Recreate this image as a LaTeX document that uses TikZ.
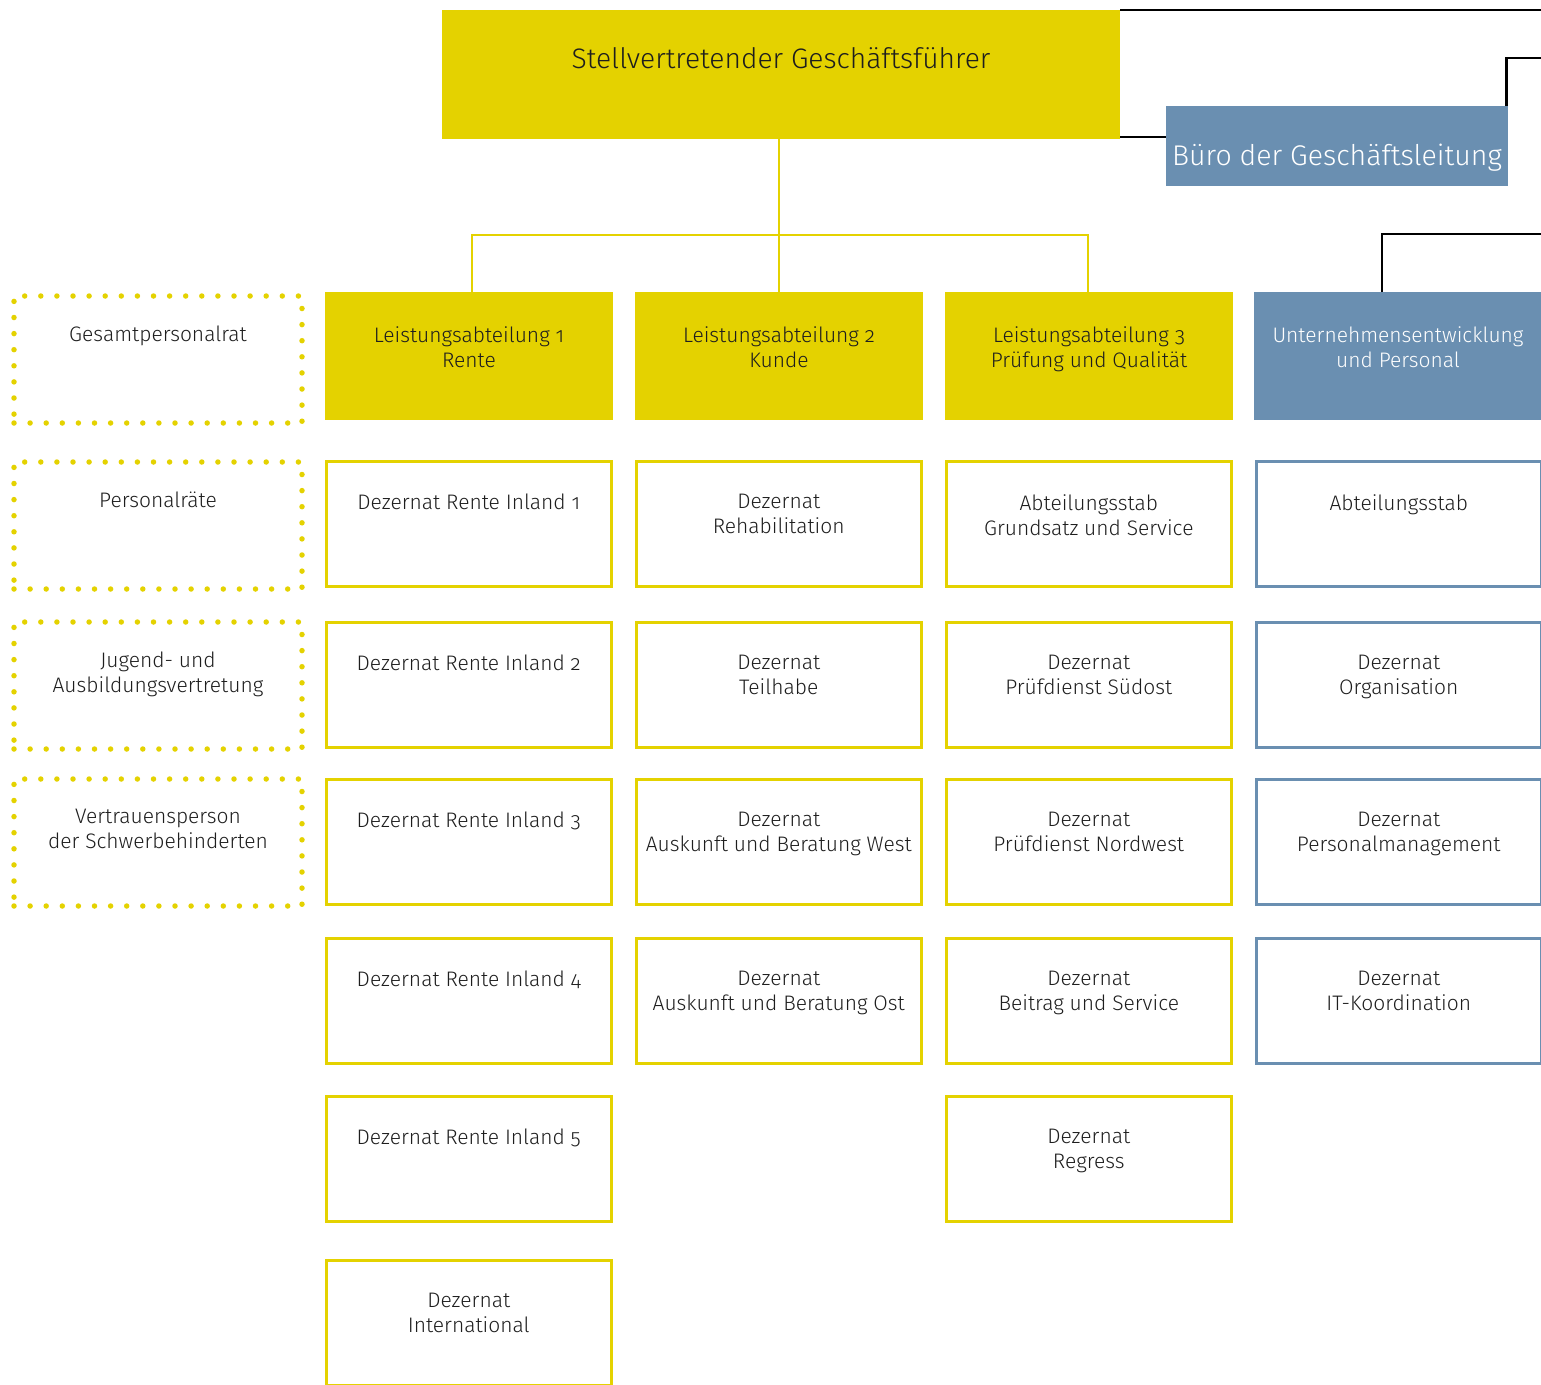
\documentclass[tikz,border=0pt]{standalone}
\usepackage{fontspec}
\setmainfont{Fira Sans Light}[Numbers=OldStyle]
\definecolor{gelb}{RGB}{228,210,0}
\definecolor{blau}{RGB}{106,143,177}
\definecolor{schrift}{RGB}{30,30,30}

\begin{document}
\begin{tikzpicture}[x=1pt, y=-1pt,
  box/.style = {draw=gelb, line width=2.5pt, anchor=north west, inner sep=0,
    minimum width=285, minimum height=125},
  blaubox/.style = {box, draw=blau},
  kopf/.style = {box, draw=none, outer sep=0, fill=gelb,
    minimum width=288, minimum height=128},
  blaukopf/.style = {kopf, fill=blau},
  punkte/.style = {box, line width=5.5pt, outer sep=0, dash pattern=on 0pt off 16.1pt,
    line cap=round, minimum width=288, minimum height=127},
  lab/.style = {anchor=north, yshift=-34pt, align=center, inner sep=0,
    text=schrift, font=\fontsize{21}{25}\selectfont},
  punktlab/.style = {lab, yshift=4.5pt},
  weisslab/.style = {lab, text=white},
  gelblinie/.style = {draw=gelb, line width=2.5pt},
  linie/.style = {draw=black, line width=2.8pt}]

  \clip (0,0) rectangle (1541,1384);

  \node[kopf, minimum width=678, minimum height=129, text=schrift,
    font=\fontsize{28.2}{34}\selectfont, text depth=32pt] (chef) at (442,10)
    {Stellvertretender Geschäftsführer};
  \node[blaukopf, minimum width=342, minimum height=80, text=white,
    font=\fontsize{28.5}{34}\selectfont, text height=45pt] (buero) at (1166,106)
    {Büro der Geschäftsleitung};

  \coordinate (rand1) at (1560,11);
  \coordinate (rand2) at (1560,58);
  \coordinate (rand3) at (1560,234);

  % Kopfzeile
  \node[punkte, label={[punktlab]north:Gesamtpersonalrat}] (gpr) at (14,296) {};
  \node[kopf, label={[lab]north:{Leistungsabteilung 1\\Rente}}] (la1) at (325,292) {};
  \node[kopf, label={[lab]north:{Leistungsabteilung 2\\Kunde}}] (la2) at (635,292) {};
  \node[kopf, label={[lab]north:{Leistungsabteilung 3\\Prüfung und Qualität}}] (la3) at (945,292) {};
  \node[blaukopf, label={[weisslab]north:{Unternehmensentwicklung\\und Personal}}] (up) at (1254,292) {};

  % Personalvertretungen
  \node[punkte, label={[punktlab]north:Personalräte}] (pr) at (14,462) {};
  \node[punkte, label={[punktlab]north:{Jugend- und\\Ausbildungsvertretung}}] (jav) at (14,622) {};
  \node[punkte, label={[punktlab]north:{Vertrauensperson\\der Schwerbehinderten}}] (vp) at (14,779) {};

  % Leistungsabteilung 1
  \node[box, label={[lab]north:Dezernat Rente Inland 1}] (ri1) at (325,460) {};
  \node[box, label={[lab]north:Dezernat Rente Inland 2}] (ri2) at (325,621) {};
  \node[box, label={[lab]north:Dezernat Rente Inland 3}] (ri3) at (325,778) {};
  \node[box, label={[lab]north:Dezernat Rente Inland 4}] (ri4) at (325,937) {};
  \node[box, label={[lab]north:Dezernat Rente Inland 5}] (ri5) at (325,1095) {};
  \node[box, label={[lab]north:{Dezernat\\International}}] (int) at (325,1259) {};

  % Leistungsabteilung 2
  \node[box, label={[lab]north:{Dezernat\\Rehabilitation}}] (reha) at (635,460) {};
  \node[box, label={[lab]north:{Dezernat\\Teilhabe}}] (teil) at (635,621) {};
  \node[box, label={[lab]north:{Dezernat\\Auskunft und Beratung West}}] (abw) at (635,778) {};
  \node[box, label={[lab]north:{Dezernat\\Auskunft und Beratung Ost}}] (abo) at (635,937) {};

  % Leistungsabteilung 3
  \node[box, label={[lab]north:{Abteilungsstab\\Grundsatz und Service}}] (stab3) at (945,460) {};
  \node[box, label={[lab]north:{Dezernat\\Prüfdienst Südost}}] (pso) at (945,621) {};
  \node[box, label={[lab]north:{Dezernat\\Prüfdienst Nordwest}}] (pnw) at (945,778) {};
  \node[box, label={[lab]north:{Dezernat\\Beitrag und Service}}] (bus) at (945,937) {};
  \node[box, label={[lab]north:{Dezernat\\Regress}}] (reg) at (945,1095) {};

  % Unternehmensentwicklung
  \node[blaubox, label={[lab]north:Abteilungsstab}] (stab4) at (1255,460) {};
  \node[blaubox, label={[lab]north:{Dezernat\\Organisation}}] (org) at (1255,621) {};
  \node[blaubox, label={[lab]north:{Dezernat\\Personalmanagement}}] (pm) at (1255,778) {};
  \node[blaubox, label={[lab]north:{Dezernat\\IT-Koordination}}] (itk) at (1255,937) {};

  \coordinate (knoten) at ([yshift=-96pt]chef.south -| la2.north);
  \draw[gelblinie] (chef.south -| la2.north) -- (la2.north);
  \draw[gelblinie] ([xshift=3pt]la1.north) |- (knoten) -| ([xshift=-1pt]la3.north);

  \draw[linie] (chef.north east) -- (chef.north east -| rand1);
  \draw[linie] ([yshift=2pt]chef.south east) -- ([yshift=2pt]chef.south east -| buero.west);
  \draw[linie] ([xshift=-1.4pt]buero.north east) |- (rand2);
  \draw[linie] ([xshift=-16pt]up.north) |- (rand3);
\end{tikzpicture}
\end{document}
